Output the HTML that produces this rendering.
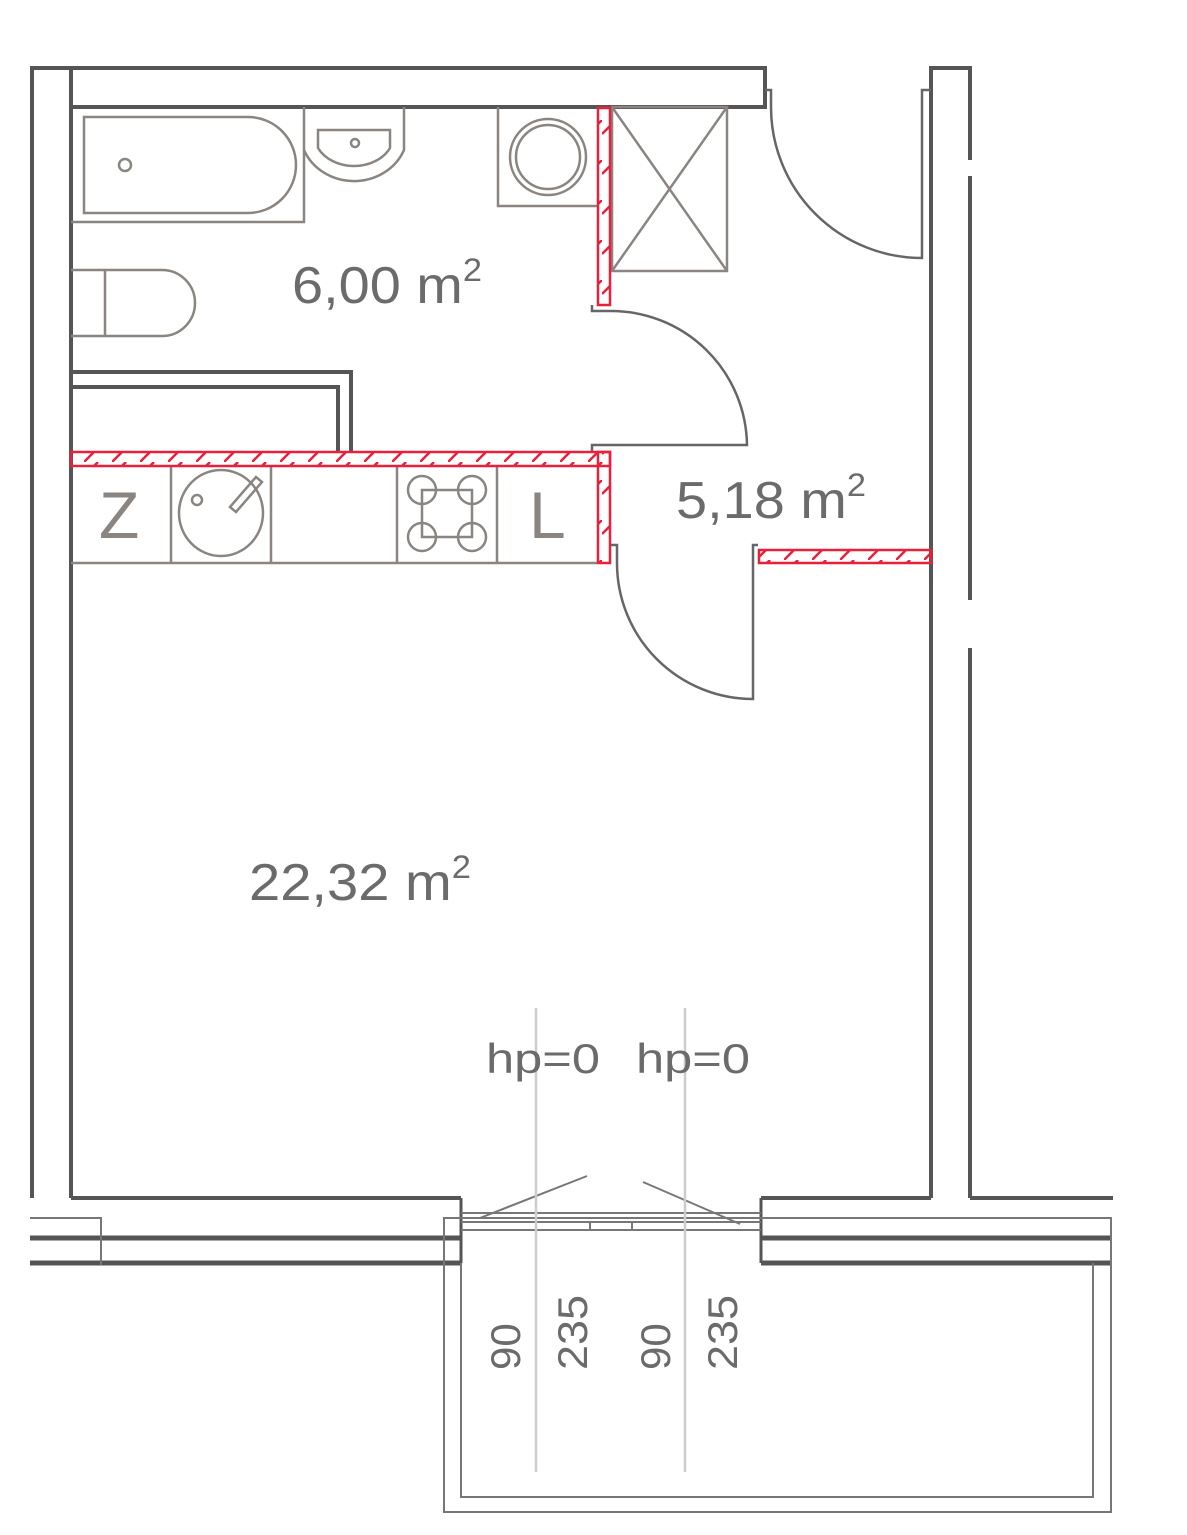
<!DOCTYPE html>
<html><head><meta charset="utf-8"><style>
html,body{margin:0;padding:0;background:#fff;}
svg{display:block;}
text{font-family:"Liberation Sans",sans-serif;}
</style></head><body>
<svg width="1187" height="1535" viewBox="0 0 1187 1535" xmlns="http://www.w3.org/2000/svg">
<defs>
<pattern id="hh" patternUnits="userSpaceOnUse" width="28" height="14">
<line x1="0" y1="14" x2="14" y2="0" stroke="#e8203a" stroke-width="2.5"/>
</pattern>
<pattern id="hv" patternUnits="userSpaceOnUse" width="14" height="40">
<line x1="0" y1="14" x2="14" y2="0" stroke="#e8203a" stroke-width="2.5"/>
</pattern>
</defs>
<g fill="none" stroke="#555" stroke-width="4">
<polyline points="32,1198 32,68 765,68 765,107 71,107"/>
<line x1="71" y1="68" x2="71" y2="1198"/>
<polyline points="931,1198 931,68 970,68 970,160"/>
<line x1="970" y1="176" x2="970" y2="600"/>
<line x1="970" y1="648" x2="970" y2="1198"/>
<line x1="71" y1="1198" x2="461" y2="1198"/>
<line x1="761" y1="1198" x2="931" y2="1198"/>
<line x1="970" y1="1198" x2="1113" y2="1198"/>
<line x1="30" y1="1238" x2="461" y2="1238" stroke-width="5"/>
<line x1="30" y1="1263" x2="461" y2="1263" stroke-width="5"/>
<line x1="761" y1="1238" x2="1111" y2="1238" stroke-width="5"/>
<line x1="761" y1="1263" x2="1111" y2="1263" stroke-width="5"/>
<line x1="461" y1="1198" x2="461" y2="1263" stroke-width="3"/>
<line x1="761" y1="1198" x2="761" y2="1263" stroke-width="3"/>
<polyline points="71,372 351,372 351,452"/>
<polyline points="71,387 338,387 338,452"/>
</g>
<g fill="none" stroke="#777" stroke-width="2">
<polyline points="30,1218 101,1218 101,1265"/>
<line x1="761" y1="1218" x2="1111" y2="1218"/>
<rect x="444" y="1218" width="667" height="294"/>
<polyline points="461,1263 461,1497 1093,1497 1093,1263"/>
<line x1="461" y1="1213" x2="761" y2="1213"/>
<line x1="461" y1="1222" x2="761" y2="1222"/>
<line x1="461" y1="1230" x2="761" y2="1230"/>
<line x1="480" y1="1218" x2="587" y2="1176"/>
<line x1="643" y1="1182" x2="740" y2="1224"/>
<line x1="590" y1="1222" x2="590" y2="1230"/><line x1="632" y1="1222" x2="632" y2="1230"/>
</g>
<g fill="none" stroke="#666" stroke-width="2.5">
<path d="M771,107 A151,151 0 0 0 922,258 L922,90 L931,90"/>
<polyline points="765,90 771,90 771,107"/>
<path d="M610,311 A136,136 0 0 1 747,445 L592,445 L592,452"/>
<polyline points="592,305 592,311 610,311"/>
<path d="M617,563 A136,136 0 0 0 753,699 L753,545 L758,545"/>
<polyline points="610,545 617,545 617,563"/>
</g>
<g fill="none" stroke="#8a8580" stroke-width="2.5">
<polyline points="71,222 304,222 304,107"/>
<path d="M84,117 H248 A48,48 0 0 1 248,213 H84 Z"/>
<circle cx="125" cy="165" r="6"/>
<path d="M304,150 A54,50 0 0 0 404,150 V107"/>
<path d="M318,130 H390 V148 A40,32 0 0 1 318,148 Z"/>
<circle cx="355" cy="143" r="4"/>
<polyline points="498,107 498,206 597,206"/>
<circle cx="548" cy="157" r="38"/><circle cx="548" cy="157" r="32"/>
<rect x="612" y="107" width="115" height="164"/>
<line x1="612" y1="107" x2="727" y2="271"/><line x1="727" y1="107" x2="612" y2="271"/>
<path d="M71,270 H162 A33,33 0 0 1 162,336 H71"/>
<line x1="105" y1="270" x2="105" y2="336"/>
<line x1="71" y1="563" x2="597" y2="563"/>
<line x1="171" y1="466" x2="171" y2="563"/><line x1="271" y1="466" x2="271" y2="563"/>
<line x1="397" y1="466" x2="397" y2="563"/><line x1="497" y1="466" x2="497" y2="563"/>
<ellipse cx="221" cy="513" rx="42" ry="43"/>
<circle cx="197" cy="500" r="5"/>
<path d="M230,507 L256,477 L262,482 L236,512 Z"/>
<rect x="422" y="490" width="50" height="47"/>
<circle cx="422" cy="490" r="14"/><circle cx="472" cy="490" r="14"/>
<circle cx="422" cy="537" r="14"/><circle cx="472" cy="537" r="14"/>
</g>
<g stroke="#e8203a" stroke-width="2.5">
<rect x="598" y="108" width="12" height="197" fill="url(#hv)"/>
<rect x="71" y="452" width="539" height="14" fill="url(#hh)"/>
<rect x="598" y="452" width="12" height="111" fill="url(#hv)"/>
<rect x="759" y="550" width="172" height="13" fill="url(#hh)"/>
</g>
<line x1="536" y1="1008" x2="536" y2="1472" stroke="#ccc" stroke-width="2.5"/>
<line x1="685" y1="1008" x2="685" y2="1472" stroke="#ccc" stroke-width="2.5"/>
<g fill="#8a8580" font-size="66">
<text x="99" y="538">Z</text>
<text x="529" y="538">L</text>
</g>
<g fill="#6b6b6b">
<text x="292" y="303" font-size="52" textLength="190" lengthAdjust="spacingAndGlyphs">6,00 m<tspan dy="-22" font-size="32">2</tspan></text>
<text x="676" y="518" font-size="52" textLength="190" lengthAdjust="spacingAndGlyphs">5,18 m<tspan dy="-22" font-size="32">2</tspan></text>
<text x="249" y="900" font-size="52" textLength="222" lengthAdjust="spacingAndGlyphs">22,32 m<tspan dy="-22" font-size="32">2</tspan></text>
<text x="486" y="1073" font-size="42" textLength="114" lengthAdjust="spacingAndGlyphs">hp=0</text>
<text x="636" y="1073" font-size="42" textLength="114" lengthAdjust="spacingAndGlyphs">hp=0</text>
<g font-size="42">
<text transform="translate(520,1370) rotate(-90)">90</text>
<text transform="translate(587,1370) rotate(-90)" textLength="75" lengthAdjust="spacingAndGlyphs">235</text>
<text transform="translate(670,1370) rotate(-90)">90</text>
<text transform="translate(737,1370) rotate(-90)" textLength="75" lengthAdjust="spacingAndGlyphs">235</text>
</g>
</g>
</svg>
</body></html>
